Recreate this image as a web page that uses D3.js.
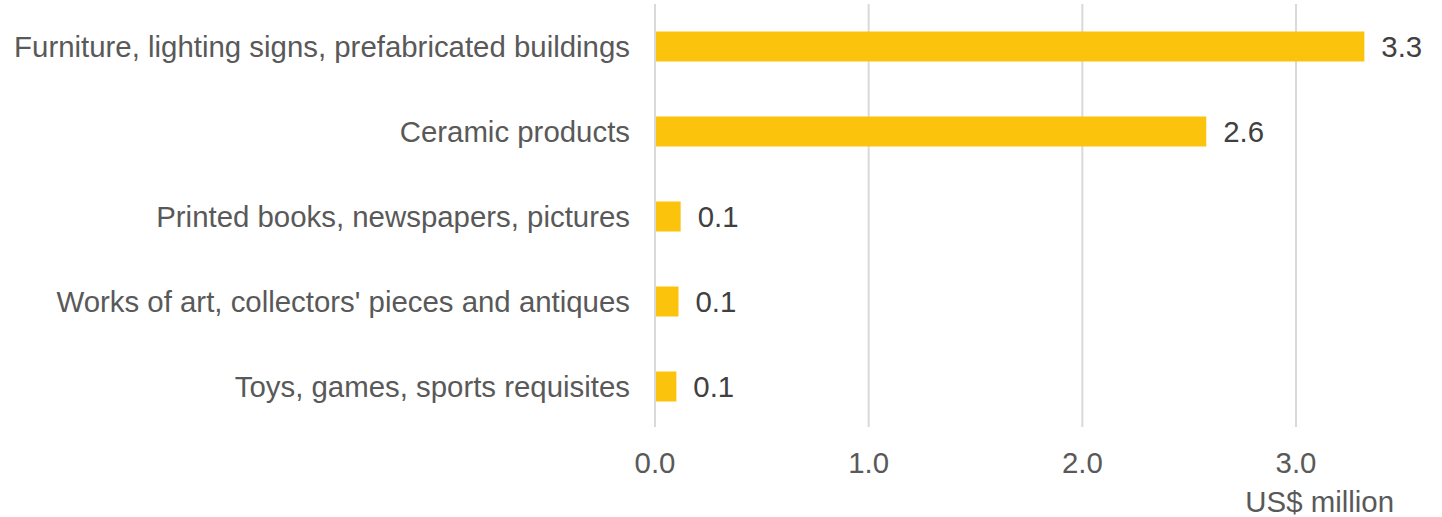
<!DOCTYPE html>
<html>
<head>
<meta charset="utf-8">
<script src="https://cdn.jsdelivr.net/npm/d3@7"></script>
<style>
  body { margin: 0; background: #fff; }
  svg { font-family: "Liberation Sans", Arial, sans-serif; }
</style>
</head>
<body>
<svg id="chart" width="1442" height="517"></svg>
<script>
const categories = [
  'Furniture, lighting signs, prefabricated buildings',
  'Ceramic products',
  'Printed books, newspapers, pictures',
  "Works of art, collectors' pieces and antiques",
  'Toys, games, sports requisites'
];
const values = [3.32, 2.58, 0.12, 0.11, 0.10];
const valueLabels = ['3.3', '2.6', '0.1', '0.1', '0.1'];
const ticks = [0, 1, 2, 3];
const unitLabel = 'US$ million';

const svg = d3.select('#chart');
const plotTop = 4, plotBottom = 429;
const fontSize = 29.4;

const x = d3.scaleLinear().domain([0, 3]).range([655, 1296]);
const y = d3.scaleBand().domain(categories).range([plotTop, plotBottom])
  .paddingInner(0.647).paddingOuter(0.3235);

// gridlines
svg.append('g').selectAll('line').data(ticks).join('line')
  .attr('x1', d => x(d)).attr('x2', d => x(d))
  .attr('y1', plotTop).attr('y2', plotBottom - 2)
  .attr('stroke', '#d9d9d9').attr('stroke-width', 2);

// bars
svg.append('g').selectAll('rect').data(values).join('rect')
  .attr('x', x(0) + 1)
  .attr('y', (d, i) => y(categories[i]))
  .attr('width', d => x(d) - x(0) - 1)
  .attr('height', y.bandwidth())
  .attr('fill', '#fbc30c');

// value labels
svg.append('g').selectAll('text').data(values).join('text')
  .attr('x', d => x(d) + 17)
  .attr('y', (d, i) => y(categories[i]) + y.bandwidth() / 2)
  .attr('dy', '0.36em')
  .attr('font-size', fontSize)
  .attr('fill', '#404040')
  .text((d, i) => valueLabels[i]);

// category labels
svg.append('g').selectAll('text').data(categories).join('text')
  .attr('x', x(0) - 25)
  .attr('y', d => y(d) + y.bandwidth() / 2)
  .attr('dy', '0.36em')
  .attr('text-anchor', 'end')
  .attr('font-size', fontSize)
  .attr('fill', '#595959')
  .text(d => d);

// x tick labels
svg.append('g').selectAll('text').data(ticks).join('text')
  .attr('x', d => x(d))
  .attr('y', 473)
  .attr('text-anchor', 'middle')
  .attr('font-size', fontSize)
  .attr('fill', '#595959')
  .text(d => d3.format('.1f')(d));

svg.append('text')
  .attr('x', 1394)
  .attr('y', 512)
  .attr('text-anchor', 'end')
  .attr('font-size', fontSize)
  .attr('fill', '#595959')
  .text(unitLabel);
</script>
</body>
</html>
